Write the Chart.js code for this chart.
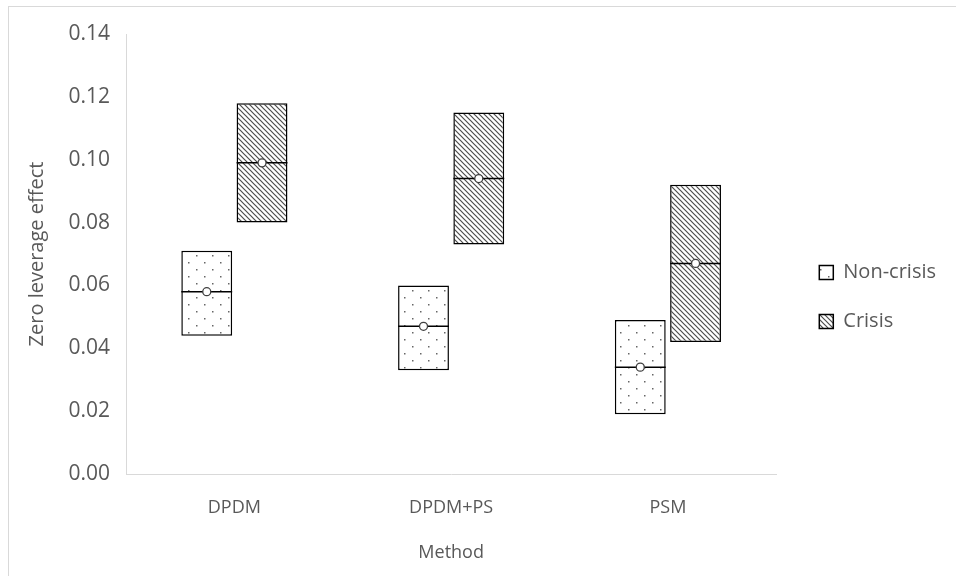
<!DOCTYPE html>
<html>
<head>
<meta charset="utf-8">
<script src="https://cdn.jsdelivr.net/npm/chart.js@4.4.1/dist/chart.umd.min.js"></script>
<style>
  html, body { margin: 0; padding: 0; background: #fff; overflow: hidden; }
  #frame { position: absolute; left: 8px; top: 6px; width: 980px; height: 600px; border: 1px solid #d9d9d9; }
  #wrap { position: absolute; left: 0; top: 0; width: 956px; height: 576px; }
</style>
</head>
<body>
<div id="frame"></div>
<div id="wrap"><canvas id="chart" width="956" height="576"></canvas></div>
<script>
// chart data
const categories = ['DPDM', 'DPDM+PS', 'PSM'];
const nonCrisisLow = [0.044, 0.033, 0.019];
const nonCrisisHigh = [0.071, 0.060, 0.049];
const nonCrisisMid = [0.058, 0.047, 0.034];
const crisisLow = [0.080, 0.073, 0.042];
const crisisHigh = [0.118, 0.115, 0.092];
const crisisMid = [0.099, 0.094, 0.067];

const textColor = '#595959';
const fontFamily = '"Open Sans", sans-serif';

// dotted fill for non-crisis boxes
function dotPattern() {
    const c = document.createElement('canvas');
    c.width = 16; c.height = 14;
    const g = c.getContext('2d');
    g.fillStyle = '#fff';
    g.fillRect(0, 0, 16, 14);
    g.fillStyle = '#666';
    g.fillRect(4, 3, 1.5, 1.5);
    g.fillRect(12, 10, 1.5, 1.5);
    return g.createPattern(c, 'repeat');
}

// diagonal hatch for crisis boxes
function hatchPattern() {
    const s = 5;
    const c = document.createElement('canvas');
    c.width = s; c.height = s;
    const g = c.getContext('2d');
    g.fillStyle = '#fff';
    g.fillRect(0, 0, s, s);
    g.strokeStyle = '#4d4d4d';
    g.lineWidth = 1.2;
    g.beginPath();
    g.moveTo(-1, -1); g.lineTo(s + 1, s + 1);
    g.moveTo(-1, s - 1); g.lineTo(1, s + 1);
    g.moveTo(s - 1, -1); g.lineTo(s + 1, 1);
    g.stroke();
    return g.createPattern(c, 'repeat');
}

// median line and mean marker inside each box
const midMarks = {
    id: 'midMarks',
    afterDatasetsDraw(chart) {
        const ctx = chart.ctx;
        const yScale = chart.scales.y;
        chart.data.datasets.forEach((ds, i) => {
            const meta = chart.getDatasetMeta(i);
            meta.data.forEach((bar, j) => {
                const y = yScale.getPixelForValue(ds.mid[j]);
                const half = bar.width / 2;
                ctx.save();
                ctx.strokeStyle = '#000';
                ctx.lineWidth = 1.5;
                ctx.beginPath();
                ctx.moveTo(bar.x - half, y);
                ctx.lineTo(bar.x + half, y);
                ctx.stroke();
                ctx.beginPath();
                ctx.arc(bar.x, y, 4, 0, Math.PI * 2);
                ctx.fillStyle = '#fff';
                ctx.fill();
                ctx.lineWidth = 1.3;
                ctx.strokeStyle = '#404040';
                ctx.stroke();
                ctx.restore();
            });
        });
    }
};

// nudge the legend a little right and up, like the original
const legendNudge = {
    id: 'legendNudge',
    afterLayout(chart) {
        const lg = chart.legend;
        lg.left += 14; lg.right += 14;
        lg.top -= 8; lg.bottom -= 8;
    }
};

const ctx = document.getElementById('chart').getContext('2d');
new Chart(ctx, {
    type: 'bar',
    data: {
        labels: categories,
        datasets: [{
            label: 'Non-crisis',
            data: nonCrisisLow.map((v, i) => [v, nonCrisisHigh[i]]),
            mid: nonCrisisMid,
            backgroundColor: dotPattern(),
            borderColor: '#000',
            borderWidth: 1.5,
            borderSkipped: false
        }, {
            label: 'Crisis',
            data: crisisLow.map((v, i) => [v, crisisHigh[i]]),
            mid: crisisMid,
            backgroundColor: hatchPattern(),
            borderColor: '#000',
            borderWidth: 1.5,
            borderSkipped: false
        }]
    },
    options: {
        responsive: false,
        animation: false,
        categoryPercentage: 0.51,
        barPercentage: 0.92,
        layout: { padding: { top: 34, right: 24, left: 0, bottom: 0 } },
        plugins: {
            tooltip: { enabled: false },
            legend: {
                position: 'right',
                labels: {
                    color: textColor,
                    font: { family: fontFamily, size: 20 },
                    boxWidth: 14,
                    boxHeight: 14,
                    padding: 29
                }
            }
        },
        scales: {
            x: {
                grid: { display: false },
                border: { display: true, color: '#d9d9d9', width: 1 },
                ticks: { color: textColor, font: { family: fontFamily, size: 18 }, padding: 15 },
                title: { display: true, text: 'Method', color: textColor, font: { family: fontFamily, size: 18 }, padding: { top: 10, bottom: 12 } },
                afterFit(scale) { scale.height = 102; }
            },
            y: {
                min: 0,
                max: 0.14,
                grid: { display: false },
                border: { display: true, color: '#d9d9d9', width: 1 },
                ticks: {
                    stepSize: 0.02,
                    color: textColor,
                    font: { family: fontFamily, size: 21 },
                    padding: 8,
                    callback: v => v.toFixed(2)
                },
                title: { display: true, text: 'Zero leverage effect', color: textColor, font: { family: fontFamily, size: 20 }, padding: { top: 25, bottom: 0 } },
                afterFit(scale) { scale.width = 126; }
            }
        }
    },
    plugins: [midMarks, legendNudge]
});
</script>
</body>
</html>
